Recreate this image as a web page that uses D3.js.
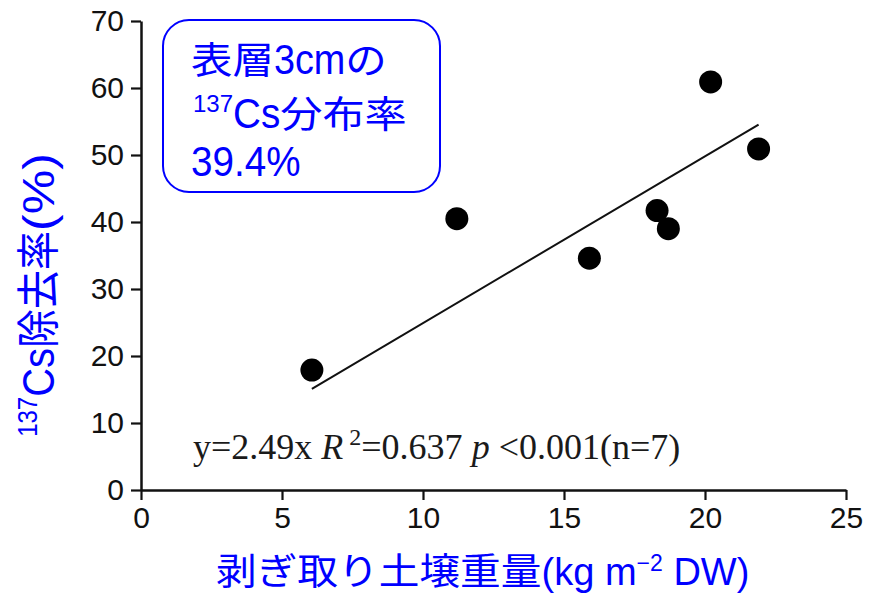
<!DOCTYPE html>
<html>
<head>
<meta charset="utf-8">
<script src="https://cdn.jsdelivr.net/npm/d3@7"></script>
<style>
  html, body { margin: 0; padding: 0; background: #fff; }
  svg { display: block; }
</style>
</head>
<body>
<svg id="chart" width="879" height="598"></svg>
<script>
// Stripped soil weight (kg m^-2 DW) versus 137Cs removal rate (%)
const soilWeight = [6.06, 11.2, 15.9, 18.3, 18.7, 20.2, 21.9];
const removalRate = [17.9, 40.5, 34.6, 41.7, 39.0, 60.9, 50.9];
const xTicks = [0, 5, 10, 15, 20, 25];
const yTicks = [0, 10, 20, 30, 40, 50, 60, 70];
const slope = 2.49;                 // fitted line through the origin
const fitRange = [6.06, 21.9];      // x extent of the drawn fit line

const blue = "#0000ff";
const latinFont = "'Liberation Sans', Arial, sans-serif";
const cjkFont = "'Noto Sans CJK JP', sans-serif";

const svg = d3.select("#chart");
svg.append("rect").attr("width", 879).attr("height", 598).attr("fill", "#fff");

const x = d3.scaleLinear().domain([0, 25]).range([141, 846]);
const y = d3.scaleLinear().domain([0, 70]).range([490, 21]);

// Axes
const xAxis = svg.append("g")
  .attr("transform", `translate(0,${y(0)})`)
  .call(d3.axisBottom(x).tickValues(xTicks).tickSize(10).tickSizeOuter(0).tickPadding(7));
const yAxis = svg.append("g")
  .attr("transform", `translate(${x(0)},0)`)
  .call(d3.axisLeft(y).tickValues(yTicks).tickSize(10).tickSizeOuter(0).tickPadding(7));

[xAxis, yAxis].forEach(g => {
  g.selectAll("path.domain").attr("stroke", "#111").attr("stroke-width", 2.5);
  g.selectAll(".tick line").attr("stroke", "#111").attr("stroke-width", 2.2);
  g.selectAll(".tick text")
    .attr("fill", "#111")
    .style("font-family", latinFont)
    .style("font-size", "30px");
});

// Fit line y = 2.49x
svg.append("line")
  .attr("x1", x(fitRange[0])).attr("y1", y(slope * fitRange[0]))
  .attr("x2", x(fitRange[1])).attr("y2", y(slope * fitRange[1]))
  .attr("stroke", "#111").attr("stroke-width", 2);

// Data points
svg.append("g").selectAll("circle")
  .data(soilWeight.map((v, i) => [v, removalRate[i]]))
  .join("circle")
  .attr("cx", d => x(d[0]))
  .attr("cy", d => y(d[1]))
  .attr("r", 11.5)
  .attr("fill", "#000");

// Regression statistics
const eq = svg.append("text")
  .attr("x", 193).attr("y", 459)
  .attr("fill", "#1a1a1a")
  .style("white-space", "pre")
  .style("font-family", "'Liberation Serif', 'Times New Roman', serif")
  .style("font-size", "36px");
eq.append("tspan").text("y=2.49x ");
eq.append("tspan").attr("font-style", "italic").text("R");
eq.append("tspan").attr("font-size", "24px").attr("dy", -14).text(" 2");
eq.append("tspan").attr("dy", 14).text("=0.637 ");
eq.append("tspan").attr("font-style", "italic").text("p");
eq.append("tspan").text(" <0.001(n=7)");

// Lays out a line of mixed Latin / CJK runs, each with its own size and width scale
function drawRuns(parent, parts, anchor) {
  const g = parent.append("g");
  let cx = 0;
  parts.forEach(p => {
    const sx = p.sx || 1;
    const t = g.append("text")
      .attr("fill", blue)
      .style("white-space", "pre")
      .style("font-family", p.cjk ? cjkFont : latinFont)
      .style("font-size", p.size + "px")
      .text(p.t);
    const w = t.node().getComputedTextLength() * sx;
    t.attr("transform", `translate(${cx},${p.dy || 0}) scale(${sx},1)`);
    cx += w;
  });
  if (anchor === "middle") g.attr("transform", `translate(${-cx / 2},0)`);
  return g;
}

// Annotation box
svg.append("rect")
  .attr("x", 163).attr("y", 20).attr("width", 277).attr("height", 172)
  .attr("rx", 26).attr("ry", 26)
  .attr("fill", "#fff").attr("stroke", blue).attr("stroke-width", 2);

drawRuns(svg.append("g").attr("transform", "translate(191,74)"), [
  { t: "表層", cjk: true, size: 37, sx: 1.12 },
  { t: "3cm", size: 42, sx: 0.9 },
  { t: "の", cjk: true, size: 37, sx: 1.12 }
]);
drawRuns(svg.append("g").attr("transform", "translate(193,128)"), [
  { t: "137", size: 24, dy: -16 },
  { t: "Cs", size: 42, sx: 0.92 },
  { t: "分布率", cjk: true, size: 37, sx: 1.14 }
]);
drawRuns(svg.append("g").attr("transform", "translate(191,176)"), [
  { t: "39.4%", size: 42, sx: 0.92 }
]);

// Axis titles
drawRuns(svg.append("g").attr("transform", "translate(216,585)"), [
  { t: "剥ぎ取り土壌重量", cjk: true, size: 37, sx: 1.1 },
  { t: "(kg m", size: 38 },
  { t: "−2", size: 23, dy: -14 },
  { t: " DW)", size: 38 }
]);

drawRuns(svg.append("g").attr("transform", "translate(54,295) rotate(-90) scale(1,1.12)"), [
  { t: "137", size: 24, dy: -15 },
  { t: "Cs", size: 40 },
  { t: "除去率", cjk: true, size: 39 },
  { t: "(%)", size: 40, sx: 1.25 }
], "middle");
</script>
</body>
</html>
